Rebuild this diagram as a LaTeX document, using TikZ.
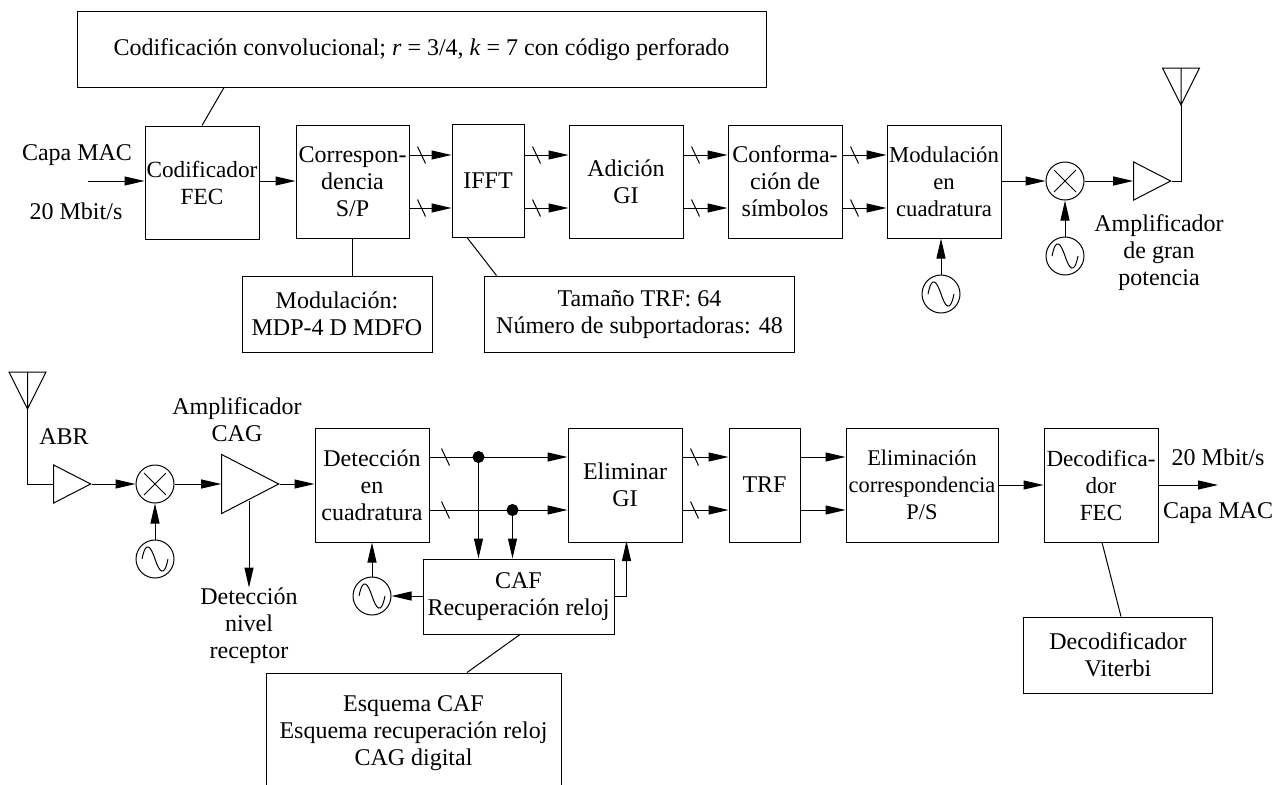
\documentclass[tikz,border=0pt]{standalone}
\usepackage{fontspec}
\setmainfont{Liberation Serif}
\usetikzlibrary{arrows.meta}
\usetikzlibrary{shapes.geometric}

\begin{document}
\begin{tikzpicture}[x=1pt, y=-1pt, line width=1pt, font=\fontsize{24}{27}\selectfont,
  Block/.style={draw, align=center, inner sep=0pt},
  Tight/.style={font=\fontsize{#1}{27}\selectfont},
  Label/.style={align=center, inner sep=0pt},
  Signal/.style={-{Triangle[length=20pt, width=9pt]}},
  Mixer/.style={draw, circle, inner sep=0pt, minimum size=38pt,
    path picture={\draw ([shift={(-11pt,-11pt)}]path picture bounding box.center) -- ++(22pt,22pt)
      ([shift={(-11pt,11pt)}]path picture bounding box.center) -- ++(22pt,-22pt);}},
  Osc/.style={draw, circle, inner sep=0pt, minimum size=38pt,
    path picture={\draw ([xshift=-13pt]path picture bounding box.center) .. controls +(4pt,20pt) and +(-4pt,12pt) ..
      (path picture bounding box.center) .. controls +(4pt,-12pt) and +(-4pt,-20pt) .. ([xshift=13pt]path picture bounding box.center);}},
  Amp/.style={draw, isosceles triangle, isosceles triangle stretches, inner sep=0pt, anchor=apex},
  Dot/.style={draw, fill=black, circle, inner sep=0pt, minimum size=11pt}]

\useasboundingbox (0,0) rectangle (1284,784);

% transmitter
\node [Block, minimum width=689, minimum height=75] (conv) at (421.5, 49.5) {Codificación convolucional; \textit{r} = 3/4, \textit{k} = 7 con código perforado};

\node [Block, Tight=23.2, minimum width=114, minimum height=113] (fec) at (202, 182.5) {Codificador\\FEC};
\node [Block, minimum width=113, minimum height=113] (corr) at (352.5, 181.5) {Correspon-\\dencia\\S/P};
\node [Block, minimum width=72, minimum height=113] (ifft) at (488, 180.5) {IFFT};
\node [Block, minimum width=114, minimum height=113] (adic) at (626, 181.5) {Adición\\GI};
\node [Block, minimum width=114, minimum height=113] (conf) at (785, 181.5) {Conforma-\\ción de\\símbolos};
\node [Block, Tight=22.7, minimum width=114, minimum height=113] (modu) at (944, 181.5) {Modulación\\en\\cuadratura};

\node [Block, minimum width=190, minimum height=76] (mdp) at (337, 314) {Modulación:\\MDP-4 D MDFO};
\node [Block, minimum width=310, minimum height=76] (tam) at (639.5, 314) {Tamaño TRF: 64\\Número de subportadoras: 48};

\node [Mixer] (txmix) at (1065, 181) {};
\node [Osc] (txlo1) at (1065, 256) {};
\node [Osc] (txlo2) at (941, 294) {};
\node [Amp, minimum width=38, minimum height=37] (hpa) at (1172, 181) {};
\coordinate (txant) at (1181, 105);

\node [Label] (macin) at (77, 155) {Capa MAC};
\node [Label] (ratein) at (76, 211) {20 Mbit/s};
\coordinate (in) at (88, 181);
\node [Label] (hpatxt) at (1159, 253) {Amplificador\\de gran\\potencia};

% receiver
\coordinate (rxant) at (27.5, 409);
\node [Amp, minimum width=38, minimum height=37] (lna) at (92, 484) {};
\node [Mixer] (rxmix) at (155, 484) {};
\node [Osc] (rxlo1) at (155, 559) {};
\node [Amp, minimum width=59, minimum height=57] (agc) at (280, 484) {};
\coordinate (agcout) at (249, 501);

\node [Block, minimum width=114, minimum height=114] (det) at (372, 485) {Detección\\en\\cuadratura};
\node [Block, minimum width=114, minimum height=114] (elim) at (625, 485) {Eliminar\\GI};
\node [Block, minimum width=71, minimum height=114] (trf) at (764.5, 485) {TRF};
\node [Block, Tight=22.4, minimum width=152, minimum height=114] (ecorr) at (922, 485) {Eliminación\\correspondencia\\P/S};
\node [Block, Tight=23.1, minimum width=114, minimum height=114] (dec) at (1101, 485) {Decodifica-\\dor\\FEC};
\node [Block, minimum width=191, minimum height=75] (caf) at (518.5, 596.5) {CAF\\Recuperación reloj};
\node [Osc] (rxlo2) at (372, 596) {};
\node [Block, minimum width=189, minimum height=76] (vit) at (1118, 655) {Decodificador\\Viterbi};
\node [Block, minimum width=295, minimum height=120] (esq) at (413.5, 733) {Esquema CAF\\Esquema recuperación reloj\\CAG digital};

\node [Dot] (dot1) at (478.5, 457) {};
\node [Dot] (dot2) at (512.5, 510) {};

\node [Label] (abr) at (64, 437) {ABR};
\node [Label] (agctxt) at (237, 420) {Amplificador\\CAG};
\node [Label] (levtxt) at (249, 626) {Detección\\nivel\\receptor};
\node [Label] (rateout) at (1218, 457) {20 Mbit/s};
\node [Label] (macout) at (1218, 513) {Capa MAC};
\coordinate (out) at (1218, 485);

% thin links to the side notes
\draw ([xshift=22]fec.north |- conv.south) -- (fec.north);
\draw (mdp.north -| corr.south) -- (corr.south);
\draw ([xshift=-21]ifft.south) -- ([xshift=12.5]tam.north west);
\draw ([xshift=1.5]caf.south) -- ([xshift=53.5]esq.north);
\draw ([xshift=1]dec.south) -- ([xshift=3]vit.north);

% transmitter chain
\draw [Signal] (in) -- (in -| fec.west);
\draw [Signal] (fec.east |- 0,181) -- (corr.west |- 0,181);
\foreach \src/\dst in {corr/ifft, ifft/adic, adic/conf, conf/modu} {
  \foreach \off in {155, 208} {
    \draw [Signal] (\src.east |- 0,\off) -- (\dst.west |- 0,\off);
    \draw (\src.east |- 0,\off) ++(8,-8.5) -- ++(8,17);
  }
}
\draw [Signal] (modu.east |- txmix) -- (txmix);
\draw [Signal] (txmix) -- (hpa.lower side);
\draw [Signal] (txlo1) -- (txmix);
\draw [Signal] (txlo2) -- (txlo2 |- modu.south);
\draw (hpa.apex) -| (txant);
\draw (txant) -- ++(-18.5,-37) -- ++(37,0) -- cycle (txant) -- ++(0,-37);

% receiver chain
\draw (lna.lower side) -| (rxant);
\draw (rxant) -- ++(-18.5,-37) -- ++(37,0) -- cycle (rxant) -- ++(0,-37);
\draw [Signal] (lna.apex) -- (rxmix);
\draw [Signal] (rxmix) -- (agc.lower side);
\draw [Signal] (rxlo1) -- (rxmix);
\draw [Signal] (agc.apex) -- (agc.apex -| det.west);
\draw [Signal] (agcout) -- (levtxt.north -| agcout);
\foreach \off in {457, 510} {
  \draw [Signal] (det.east |- 0,\off) -- (elim.west |- 0,\off);
  \draw (det.east |- 0,\off) ++(12,-8.5) -- ++(8,17);
  \draw [Signal] (elim.east |- 0,\off) -- (trf.west |- 0,\off);
  \draw (elim.east |- 0,\off) ++(8,-8.5) -- ++(8,17);
  \draw [Signal] (trf.east |- 0,\off) -- (ecorr.west |- 0,\off);
}
\draw [Signal] (ecorr) -- (dec);
\draw [Signal] (dec.east) -- (out);
\draw [Signal] (dot1) -- (dot1 |- caf.north);
\draw [Signal] (dot2) -- (dot2 |- caf.north);
\draw [Signal] (caf.west |- rxlo2) -- (rxlo2);
\draw [Signal] (rxlo2) -- (rxlo2 |- det.south);
\draw [Signal] (caf.east |- rxlo2) -- ++(12,0) -- ++(0,-55);
\end{tikzpicture}
\end{document}
